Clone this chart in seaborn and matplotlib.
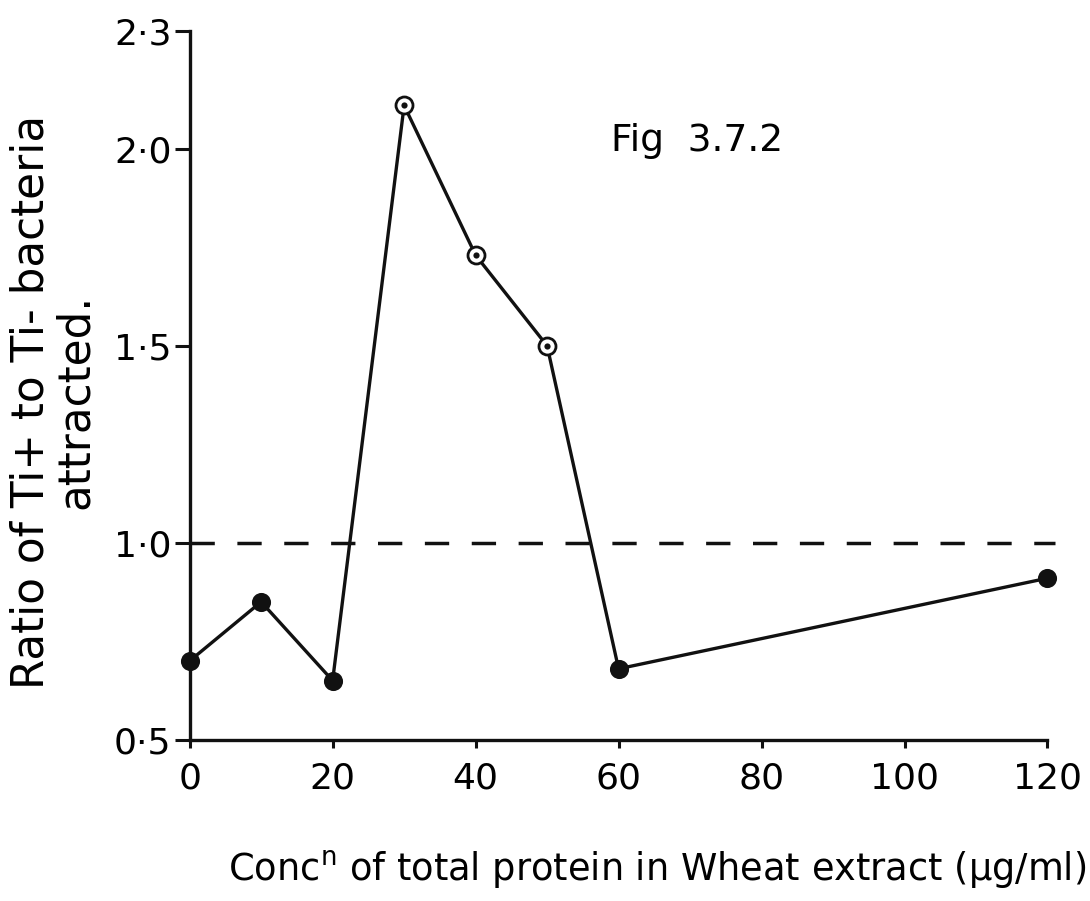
import matplotlib
matplotlib.use("Agg")
import matplotlib.pyplot as plt
import seaborn as sns
import pandas as pd

# Protein concentration (ug/ml) and Ti+/Ti- attraction ratio
conc = [0, 10, 20, 30, 40, 50, 60, 120]
ratio = [0.70, 0.85, 0.65, 2.11, 1.73, 1.50, 0.68, 0.91]
open_conc = [30, 40, 50]          # points drawn as open circles
reference_level = 1.0

x_ticks = [0, 20, 40, 60, 80, 100, 120]
x_ticklabels = ["0", "20", "40", "60", "80", "100", "120"]
y_ticks = [0.5, 1.0, 1.5, 2.0, 2.3]
y_ticklabels = ["0·5", "1·0", "1·5", "2·0", "2·3"]

sns.set_theme(style="white")
plt.rcParams["font.family"] = ["DejaVu Sans"]
plt.rcParams["text.color"] = "black"
plt.rcParams["xtick.color"] = "black"
plt.rcParams["ytick.color"] = "black"
plt.rcParams["axes.labelcolor"] = "black"

df = pd.DataFrame({"conc": conc, "ratio": ratio})
df["open"] = df["conc"].isin(open_conc)

fig = plt.figure(figsize=(10.9, 9.01), dpi=100)
ax = fig.add_axes([0.174, 0.179, 0.787, 0.787])

ink = "#111111"

# dashed reference line at ratio 1
ax.plot([0, 121], [reference_level, reference_level], color=ink, lw=2.5,
        dashes=(7, 6.5), zorder=1, clip_on=False)

sns.lineplot(data=df, x="conc", y="ratio", ax=ax, color=ink, lw=2.4,
             zorder=2, legend=False)
sns.scatterplot(data=df[~df["open"]], x="conc", y="ratio", ax=ax,
                color=ink, s=150, edgecolor=ink, linewidth=1.5, zorder=3,
                legend=False, clip_on=False)
sns.scatterplot(data=df[df["open"]], x="conc", y="ratio", ax=ax,
                color="white", s=150, edgecolor=ink, linewidth=2, zorder=3,
                legend=False)
sns.scatterplot(data=df[df["open"]], x="conc", y="ratio", ax=ax,
                color=ink, s=20, edgecolor=ink, linewidth=0, zorder=4,
                legend=False)

ax.set_xlim(0, 120)
ax.set_ylim(0.5, 2.3)
ax.set_xticks(x_ticks)
ax.set_xticklabels(x_ticklabels)
ax.set_yticks(y_ticks)
ax.set_yticklabels(y_ticklabels)

for side in ["top", "right"]:
    ax.spines[side].set_visible(False)
for side in ["left", "bottom"]:
    ax.spines[side].set_color(ink)
    ax.spines[side].set_linewidth(2.4)

ax.tick_params(axis="y", direction="out", length=11, width=2.2,
               color=ink, labelsize=26, pad=2, left=True)
ax.tick_params(axis="x", direction="out", length=6, width=2.2,
               color=ink, labelsize=26, pad=10, bottom=True)
ax.set_xlabel("")
ax.set_ylabel("Ratio of Ti+ to Ti- bacteria\nattracted.", fontsize=31.5,
              linespacing=1.05)
ax.yaxis.set_label_coords(-0.108, 0.477)

fig.text(0.603, 0.022, "Conc$^{\\mathregular{n}}$ of total protein in Wheat extract (µg/ml)",
         ha="center", va="baseline", fontsize=26.5)

ax.text(59, 2.02, "Fig  3.7.2", ha="left", va="center", fontsize=27)

fig.savefig("out.png", dpi=100, facecolor="white")
